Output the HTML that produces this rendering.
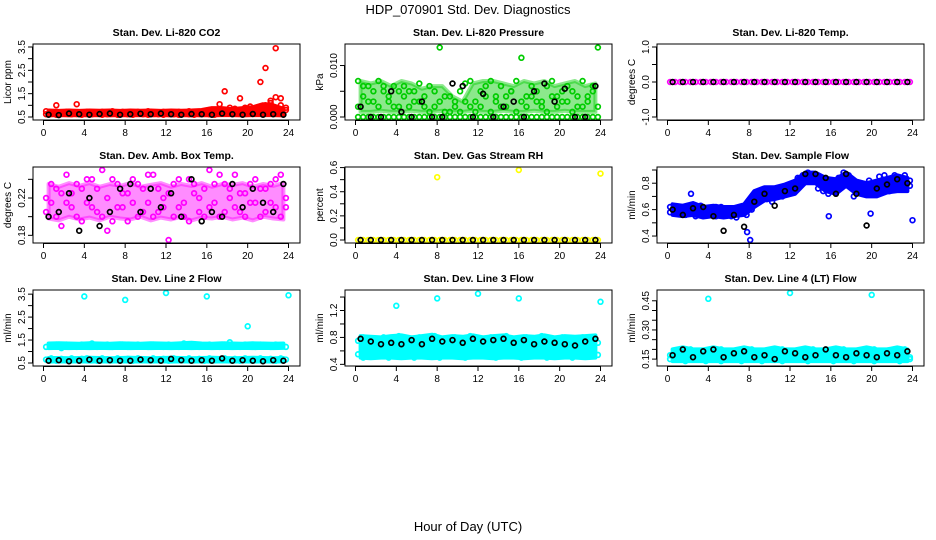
<!DOCTYPE html>
<html><head><meta charset="utf-8">
<style>
html,body{margin:0;padding:0;background:#fff;}
svg{display:block;font-family:"Liberation Sans",sans-serif;}
</style></head>
<body>
<svg id="chart" width="936" height="540" viewBox="0 0 936 540" xmlns="http://www.w3.org/2000/svg">
<text x="468" y="14" text-anchor="middle" font-size="13">HDP_070901  Std. Dev. Diagnostics</text>
<text x="468" y="531" text-anchor="middle" font-size="13">Hour of Day (UTC)</text>
</svg>
<script>
// shared hours
const hoursHalf=[0.25,0.75,1.25,1.75,2.25,2.75,3.25,3.75,4.25,4.75,5.25,5.75,6.25,6.75,7.25,7.75,8.25,8.75,9.25,9.75,10.25,10.75,11.25,11.75,12.25,12.75,13.25,13.75,14.25,14.75,15.25,15.75,16.25,16.75,17.25,17.75,18.25,18.75,19.25,19.75,20.25,20.75,21.25,21.75,22.25,22.75,23.25,23.75];
const hoursBlack=[0.5,1.5,2.5,3.5,4.5,5.5,6.5,7.5,8.5,9.5,10.5,11.5,12.5,13.5,14.5,15.5,16.5,17.5,18.5,19.5,20.5,21.5,22.5,23.5];
const zeros48=[0,0,0,0,0,0,0,0,0,0,0,0,0,0,0,0,0,0,0,0,0,0,0,0,0,0,0,0,0,0,0,0,0,0,0,0,0,0,0,0,0,0,0,0,0,0,0,0];
const zeros24=[0,0,0,0,0,0,0,0,0,0,0,0,0,0,0,0,0,0,0,0,0,0,0,0];
// panel 1 CO2
const co2A=[0.75,0.7,1.0,0.7,0.72,0.68,1.05,0.7,0.72,0.7,0.68,0.72,0.7,0.75,0.7,0.72,0.7,0.68,0.72,0.7,0.75,0.7,0.7,0.72,0.7,0.68,0.72,0.7,0.75,0.7,0.72,0.7,0.8,0.7,1.05,1.6,0.9,0.85,1.3,0.9,0.95,0.8,2.0,2.6,1.1,3.45,1.3,0.9];
const co2B=[0.62,0.65,0.6,0.64,0.66,0.62,0.63,0.6,0.64,0.62,0.65,0.6,0.62,0.64,0.6,0.63,0.62,0.6,0.65,0.62,0.6,0.64,0.62,0.6,0.63,0.62,0.6,0.64,0.62,0.6,0.63,0.65,0.62,0.6,0.65,0.7,0.75,0.7,0.72,0.8,0.85,0.75,0.9,1.0,1.2,1.35,1.0,0.8];
const co2Lo=[0.57,0.58,0.57,0.58,0.57,0.58,0.57,0.58,0.57,0.58,0.57,0.58,0.57,0.58,0.57,0.58,0.57,0.58,0.58,0.57,0.58,0.58,0.58,0.57];
const co2Hi=[0.78,0.76,0.78,0.76,0.78,0.77,0.78,0.76,0.78,0.77,0.78,0.76,0.78,0.77,0.78,0.8,0.88,0.88,0.84,0.88,0.92,1.05,1.0,0.85];
const co2Black=[0.6,0.58,0.65,0.62,0.6,0.63,0.65,0.6,0.62,0.64,0.62,0.65,0.62,0.6,0.63,0.62,0.6,0.65,0.62,0.6,0.63,0.6,0.62,0.6];
// panel 2 pressure
const presA=[0.007,0.004,0.006,0.003,0.007,0.005,0.004,0.006,0.002,0.006,0.005,0.003,0.0065,0.004,0.006,0.002,0.0135,0.004,0.001,0.003,0.001,0.0065,0.007,0.003,0.005,0.006,0.007,0.004,0.006,0.002,0.005,0.007,0.0115,0.004,0.006,0.003,0.002,0.006,0.007,0.004,0.003,0.006,0.005,0.002,0.007,0.004,0.006,0.0135];
const presB=[0.002,0.006,0.003,0.005,0.002,0.006,0.003,0.002,0.005,0.004,0.002,0.005,0.003,0.002,0.001,0.005,0.003,0.001,0.004,0.002,0.005,0.003,0.002,0.001,0.002,0.004,0.001,0.003,0.002,0.004,0.005,0.001,0.003,0.002,0.004,0.005,0.003,0.001,0.004,0.002,0.005,0.003,0.001,0.004,0.002,0.003,0.005,0.002];
const presLo=[0.001,0.001,0.0012,0.001,0.001,0.0012,0.001,0.001,0.0012,0.001,0.001,0.0012,0.001,0.001,0.0012,0.001,0.001,0.0012,0.001,0.001,0.0012,0.001,0.001,0.001];
const presHi=[0.007,0.0065,0.007,0.006,0.007,0.0065,0.0055,0.006,0.006,0.004,0.003,0.0065,0.007,0.007,0.0065,0.006,0.007,0.0065,0.007,0.006,0.0065,0.007,0.006,0.0065];
const presBlack=[0.002,0,0,0.005,0.001,0,0.003,0,0,0.0065,0.006,0,0.0045,0,0.002,0.003,0,0.005,0.0065,0.003,0.0055,0,0,0.006];
// panel 4 amb box temp
const ambA=[0.22,0.235,0.2,0.225,0.245,0.21,0.2,0.23,0.215,0.24,0.205,0.25,0.22,0.195,0.235,0.21,0.225,0.24,0.2,0.23,0.215,0.245,0.205,0.22,0.175,0.235,0.21,0.2,0.24,0.225,0.205,0.23,0.25,0.215,0.2,0.235,0.22,0.245,0.205,0.225,0.215,0.24,0.2,0.23,0.235,0.21,0.245,0.22];
const ambB=[0.205,0.215,0.23,0.19,0.215,0.225,0.235,0.195,0.24,0.21,0.23,0.2,0.185,0.24,0.21,0.225,0.195,0.215,0.235,0.205,0.245,0.2,0.23,0.21,0.225,0.2,0.24,0.215,0.195,0.235,0.22,0.2,0.21,0.235,0.245,0.205,0.23,0.21,0.225,0.2,0.235,0.215,0.23,0.205,0.215,0.24,0.2,0.21];
const ambLo=[0.198,0.196,0.2,0.197,0.199,0.196,0.2,0.198,0.197,0.2,0.196,0.199,0.197,0.2,0.196,0.199,0.198,0.2,0.197,0.199,0.196,0.2,0.198,0.197];
const ambHi=[0.235,0.232,0.236,0.233,0.236,0.232,0.235,0.233,0.236,0.232,0.234,0.236,0.232,0.235,0.233,0.236,0.232,0.235,0.234,0.236,0.232,0.235,0.233,0.236];
const ambBlack=[0.2,0.205,0.225,0.185,0.22,0.19,0.205,0.23,0.235,0.205,0.23,0.21,0.225,0.2,0.24,0.195,0.205,0.2,0.235,0.21,0.23,0.215,0.205,0.235];
// panel 5 RH
const rhOutX=[8,16,24];
const rhOutY=[0.52,0.58,0.55];
// panel 6 sample flow
const flowA=[0.62,0.6,0.57,0.62,0.6,0.58,0.63,0.6,0.56,0.62,0.58,0.6,0.55,0.58,0.6,0.56,0.62,0.72,0.75,0.68,0.72,0.7,0.75,0.72,0.78,0.8,0.86,0.88,0.85,0.82,0.8,0.72,0.78,0.84,0.88,0.86,0.8,0.74,0.72,0.78,0.8,0.85,0.82,0.78,0.86,0.84,0.8,0.82];
const flowB=[0.58,0.57,0.6,0.56,0.63,0.55,0.6,0.57,0.6,0.55,0.62,0.57,0.6,0.54,0.57,0.64,0.6,0.65,0.7,0.72,0.66,0.74,0.7,0.76,0.74,0.84,0.84,0.82,0.87,0.76,0.74,0.76,0.8,0.82,0.84,0.78,0.7,0.76,0.74,0.82,0.76,0.8,0.86,0.74,0.8,0.78,0.86,0.78];
const flowLo=[0.56,0.55,0.56,0.54,0.55,0.54,0.55,0.56,0.62,0.67,0.68,0.7,0.72,0.8,0.8,0.74,0.72,0.78,0.72,0.7,0.7,0.73,0.74,0.74];
const flowHi=[0.64,0.63,0.65,0.62,0.63,0.62,0.62,0.64,0.74,0.77,0.77,0.79,0.82,0.88,0.88,0.84,0.83,0.88,0.82,0.8,0.82,0.84,0.86,0.84];
const flowOutX=[2.3,7.8,8.1,15.8,19.9,24];
const flowOutY=[0.72,0.43,0.37,0.55,0.57,0.52];
const flowBlack=[0.6,0.56,0.61,0.62,0.55,0.44,0.56,0.47,0.66,0.72,0.63,0.74,0.76,0.87,0.87,0.84,0.72,0.87,0.72,0.48,0.76,0.79,0.83,0.8];
// panel 7 line 2
const l2A=[1.2,1.25,1.3,1.15,1.3,1.25,1.2,1.3,1.25,1.35,1.2,1.25,1.3,1.2,1.25,1.3,1.2,1.25,1.3,1.25,1.2,1.3,1.25,1.2,1.3,1.25,1.2,1.35,1.25,1.3,1.2,1.25,1.3,1.25,1.2,1.3,1.4,1.25,1.2,1.3,1.25,1.2,1.3,1.25,1.2,1.3,1.25,1.2];
const l2B=[0.65,0.7,0.6,0.68,0.65,0.7,0.62,0.68,0.7,0.65,0.6,0.7,0.66,0.62,0.7,0.65,0.68,0.6,0.7,0.66,0.62,0.7,0.65,0.68,0.6,0.7,0.66,0.62,0.7,0.65,0.68,0.6,0.7,0.66,0.62,0.7,0.65,0.68,0.6,0.7,0.66,0.62,0.7,0.65,0.68,0.6,0.7,0.65];
const l2UpLo=[1.15,1.16,1.15,1.16,1.15,1.16,1.15,1.16,1.15,1.16,1.15,1.16,1.15,1.16,1.15,1.16,1.15,1.16,1.15,1.16,1.15,1.16,1.15,1.16];
const l2UpHi=[1.35,1.36,1.35,1.34,1.36,1.35,1.34,1.36,1.35,1.34,1.36,1.35,1.34,1.36,1.38,1.35,1.34,1.36,1.35,1.34,1.36,1.35,1.34,1.35];
const l2LowLo=[0.56,0.57,0.56,0.57,0.56,0.57,0.56,0.57,0.56,0.57,0.56,0.57,0.56,0.57,0.56,0.57,0.56,0.57,0.56,0.57,0.56,0.57,0.56,0.57];
const l2LowHi=[0.72,0.72,0.71,0.72,0.73,0.72,0.71,0.72,0.73,0.72,0.71,0.72,0.73,0.72,0.71,0.72,0.73,0.72,0.71,0.72,0.73,0.72,0.71,0.72];
const l2OutX=[4,8,12,16,20,24];
const l2OutY=[3.4,3.25,3.55,3.4,2.1,3.45];
const l2Black=[0.6,0.62,0.58,0.6,0.65,0.6,0.62,0.6,0.6,0.65,0.62,0.6,0.68,0.62,0.6,0.62,0.6,0.7,0.6,0.62,0.6,0.58,0.62,0.6];
// panel 8 line 3
const l3A=[0.75,0.8,0.7,0.78,0.72,0.8,0.68,0.76,0.82,0.7,0.78,0.74,0.8,0.7,0.76,0.82,0.72,0.78,0.7,0.8,0.74,0.76,0.82,0.7,0.78,0.72,0.8,0.76,0.7,0.82,0.74,0.78,0.7,0.8,0.76,0.72,0.82,0.7,0.78,0.74,0.8,0.72,0.76,0.7,0.8,0.74,0.78,0.72];
const l3B=[0.55,0.5,0.58,0.52,0.56,0.6,0.5,0.55,0.58,0.52,0.56,0.5,0.6,0.54,0.52,0.58,0.5,0.56,0.55,0.6,0.52,0.5,0.58,0.55,0.52,0.56,0.6,0.5,0.55,0.58,0.52,0.56,0.5,0.6,0.54,0.52,0.58,0.5,0.56,0.55,0.6,0.52,0.5,0.58,0.55,0.52,0.56,0.54];
const l3Lo=[0.5,0.49,0.5,0.5,0.49,0.5,0.5,0.49,0.5,0.5,0.49,0.5,0.5,0.49,0.5,0.5,0.49,0.5,0.5,0.49,0.5,0.5,0.49,0.5];
const l3Hi=[0.82,0.81,0.8,0.82,0.83,0.8,0.82,0.84,0.8,0.82,0.81,0.83,0.8,0.82,0.83,0.8,0.82,0.81,0.83,0.8,0.82,0.81,0.82,0.83];
const l3OutX=[4,8,12,16,24];
const l3OutY=[1.27,1.38,1.45,1.38,1.33];
const l3Black=[0.78,0.74,0.7,0.72,0.7,0.76,0.7,0.78,0.74,0.76,0.72,0.78,0.74,0.76,0.78,0.72,0.76,0.7,0.74,0.72,0.7,0.68,0.74,0.78];
// panel 9 line 4
const l4A=[0.17,0.19,0.15,0.18,0.2,0.16,0.18,0.19,0.15,0.17,0.2,0.16,0.18,0.15,0.19,0.17,0.2,0.16,0.18,0.19,0.15,0.17,0.2,0.16,0.18,0.19,0.15,0.17,0.2,0.16,0.18,0.15,0.19,0.17,0.2,0.16,0.18,0.19,0.15,0.17,0.2,0.16,0.18,0.15,0.19,0.17,0.2,0.16];
const l4B=[0.15,0.16,0.18,0.14,0.16,0.18,0.15,0.14,0.17,0.16,0.14,0.18,0.15,0.17,0.14,0.16,0.15,0.18,0.14,0.16,0.17,0.15,0.14,0.18,0.16,0.15,0.17,0.14,0.16,0.18,0.15,0.17,0.14,0.16,0.15,0.18,0.14,0.16,0.17,0.15,0.14,0.18,0.16,0.15,0.17,0.14,0.16,0.15];
const l4Lo=[0.14,0.14,0.14,0.14,0.14,0.14,0.14,0.14,0.14,0.14,0.14,0.14,0.14,0.14,0.14,0.14,0.14,0.14,0.14,0.14,0.14,0.14,0.14,0.14];
const l4Hi=[0.2,0.21,0.2,0.2,0.21,0.2,0.2,0.21,0.2,0.2,0.21,0.2,0.2,0.21,0.2,0.2,0.21,0.2,0.2,0.21,0.2,0.2,0.21,0.2];
const l4OutX=[4,12,20];
const l4OutY=[0.46,0.49,0.48];
const l4Black=[0.17,0.2,0.16,0.19,0.2,0.16,0.18,0.19,0.16,0.17,0.15,0.19,0.18,0.16,0.17,0.2,0.17,0.16,0.18,0.17,0.16,0.18,0.17,0.19];

const NS='http://www.w3.org/2000/svg';
const svg=document.getElementById('chart');
function el(tag,attrs,parent){const e=document.createElementNS(NS,tag);for(const k in attrs)e.setAttribute(k,attrs[k]);(parent||svg).appendChild(e);return e;}

const colL=[33,345,657], rowT=[44,167,290];
const W=267,H=76;
const xTicks=[0,4,8,12,16,20,24];

function panel(c,r,name,title,ylab,ymin,ymax,yTicks,yLabels,bands,series){
  const L=colL[c],T=rowT[r],R=L+W,B=T+H;
  const g=el('g',{});
  
  
  const x=h=>L+10.5+h*(W-22)/24;
  const pad=3;
  const y=v=>B-pad-(v-ymin)*(H-2*pad)/(ymax-ymin);
  const t=el('text',{x:(L+R)/2,y:T-8,'text-anchor':'middle','font-size':'10.5','font-weight':'bold'},g);
  t.textContent=title;
  
  
  const yl=el('text',{x:0,y:0,'text-anchor':'middle','font-size':'10',transform:`translate(${L-22},${(T+B)/2}) rotate(-90)`},g);
  yl.textContent=ylab;
  
  
  // dense clouds
  bands.forEach(b=>{
    const top=hoursBlack.map((h,i)=>x(h).toFixed(1)+','+y(b.hi[i]).toFixed(1));
    const bot=hoursBlack.map((h,i)=>x(h).toFixed(1)+','+y(b.lo[i]).toFixed(1)).reverse();
    const p=el('polygon',{points:top.concat(bot).join(' '),fill:b.color,'fill-opacity':b.op,stroke:b.color,'stroke-opacity':b.op,'stroke-width':'4','stroke-linejoin':'round'},g);
    
    
  });
  // points
  series.forEach(s=>{
    const pg=el('g',{fill:'none',stroke:s.color,'stroke-width':'1.7'},g);
    
    
    s.ys.forEach((v,i)=>{
      const p=el('circle',{cx:x(s.xs[i]).toFixed(1),cy:y(v).toFixed(1),r:'2.4'},pg);
      
      
    });
  });
  const box=el('rect',{x:L,y:T,width:W,height:H,fill:'none',stroke:'#000','stroke-width':'1'},g);
  
  
  const xa=el('g',{},g);
  
  
  el('line',{x1:x(0),x2:x(24),y1:B+0.5,y2:B+0.5,stroke:'#000'},xa);
  xTicks.forEach(h=>{
    el('line',{x1:x(h),x2:x(h),y1:B,y2:B+5,stroke:'#000'},xa);
    const tl=el('text',{x:x(h),y:B+16,'text-anchor':'middle','font-size':'10'},xa);
    tl.textContent=h;
    
    
  });
  const ya=el('g',{},g);
  
  
  el('line',{x1:L-0.5,x2:L-0.5,y1:y(yTicks[0]),y2:y(yTicks[yTicks.length-1]),stroke:'#000'},ya);
  yTicks.forEach((v,i)=>{
    el('line',{x1:L-5,x2:L,y1:y(v),y2:y(v),stroke:'#000'},ya);
    if(yLabels[i]){
      const tl=el('text',{x:0,y:0,'text-anchor':'middle','font-size':'10',transform:`translate(${L-8},${y(v)}) rotate(-90)`},ya);
      tl.textContent=yLabels[i];
      
      
    }
  });
}
const S=(id,color,xs,ys)=>({id,color,xs,ys});
const Bd=(color,lo,hi,op)=>({color,lo,hi,op});
panel(0,0,'co2','Stan. Dev. Li-820 CO2','Licor ppm',0.5,3.5,[0.5,1,1.5,2,2.5,3,3.5],['0.5','','1.5','','2.5','','3.5'],
  [Bd('#ff0000',co2Lo,co2Hi,1)],
  [S('red-a','#ff0000',hoursHalf,co2A),S('red-b','#ff0000',hoursHalf,co2B),S('black','#000',hoursBlack,co2Black)]);
panel(1,0,'pressure','Stan. Dev. Li-820 Pressure','kPa',0,0.0136,[0,0.005,0.01],['0.000','','0.010'],
  [Bd('#00cc00',presLo,presHi,0.45)],
  [S('green-zero','#00cc00',hoursHalf,zeros48),S('green-a','#00cc00',hoursHalf,presA),S('green-b','#00cc00',hoursHalf,presB),S('black','#000',hoursBlack,presBlack)]);
panel(2,0,'temp','Stan. Dev. Li-820 Temp.','degrees C',-1,1,[-1,-0.5,0,0.5,1],['-1.0','','0.0','','1.0'],
  [],
  [S('magenta','#ff00ff',hoursHalf,zeros48),S('black','#000',hoursBlack,zeros24)]);
panel(0,1,'amb-temp','Stan. Dev. Amb. Box Temp.','degrees C',0.175,0.25,[0.18,0.2,0.22,0.24],['0.18','','0.22',''],
  [Bd('#ff00ff',ambLo,ambHi,0.45)],
  [S('magenta-a','#ff00ff',hoursHalf,ambA),S('magenta-b','#ff00ff',hoursHalf,ambB),S('black','#000',hoursBlack,ambBlack)]);
panel(1,1,'rh','Stan. Dev. Gas Stream RH','percent',0,0.58,[0,0.1,0.2,0.3,0.4,0.5,0.6],['0.0','','0.2','','0.4','','0.6'],
  [],
  [S('yellow','#ffff00',hoursHalf,zeros48),S('yellow-out','#ffff00',rhOutX,rhOutY),S('black','#000',hoursBlack,zeros24)]);
panel(2,1,'sample-flow','Stan. Dev. Sample Flow','ml/min',0.37,0.9,[0.4,0.5,0.6,0.7,0.8,0.9],['0.4','','0.6','','0.8',''],
  [Bd('#0000ff',flowLo,flowHi,1)],
  [S('blue-a','#0000ff',hoursHalf,flowA),S('blue-b','#0000ff',hoursHalf,flowB),S('blue-out','#0000ff',flowOutX,flowOutY),S('black','#000',hoursBlack,flowBlack)]);
panel(0,2,'line2','Stan. Dev. Line 2 Flow','ml/min',0.5,3.55,[0.5,1,1.5,2,2.5,3,3.5],['0.5','','1.5','','2.5','','3.5'],
  [Bd('#00ffff',l2UpLo,l2UpHi,1),Bd('#00ffff',l2LowLo,l2LowHi,1)],
  [S('cyan-a','#00ffff',hoursHalf,l2A),S('cyan-b','#00ffff',hoursHalf,l2B),S('cyan-out','#00ffff',l2OutX,l2OutY),S('black','#000',hoursBlack,l2Black)]);
panel(1,2,'line3','Stan. Dev. Line 3 Flow','ml/min',0.42,1.46,[0.4,0.6,0.8,1.0,1.2,1.4],['0.4','','0.8','','1.2',''],
  [Bd('#00ffff',l3Lo,l3Hi,1)],
  [S('cyan-a','#00ffff',hoursHalf,l3A),S('cyan-b','#00ffff',hoursHalf,l3B),S('cyan-out','#00ffff',l3OutX,l3OutY),S('black','#000',hoursBlack,l3Black)]);
panel(2,2,'line4','Stan. Dev. Line 4 (LT) Flow','ml/min',0.13,0.49,[0.15,0.2,0.25,0.3,0.35,0.4,0.45],['0.15','','','0.30','','','0.45'],
  [Bd('#00ffff',l4Lo,l4Hi,1)],
  [S('cyan-a','#00ffff',hoursHalf,l4A),S('cyan-b','#00ffff',hoursHalf,l4B),S('cyan-out','#00ffff',l4OutX,l4OutY),S('black','#000',hoursBlack,l4Black)]);
</script>
</body></html>
